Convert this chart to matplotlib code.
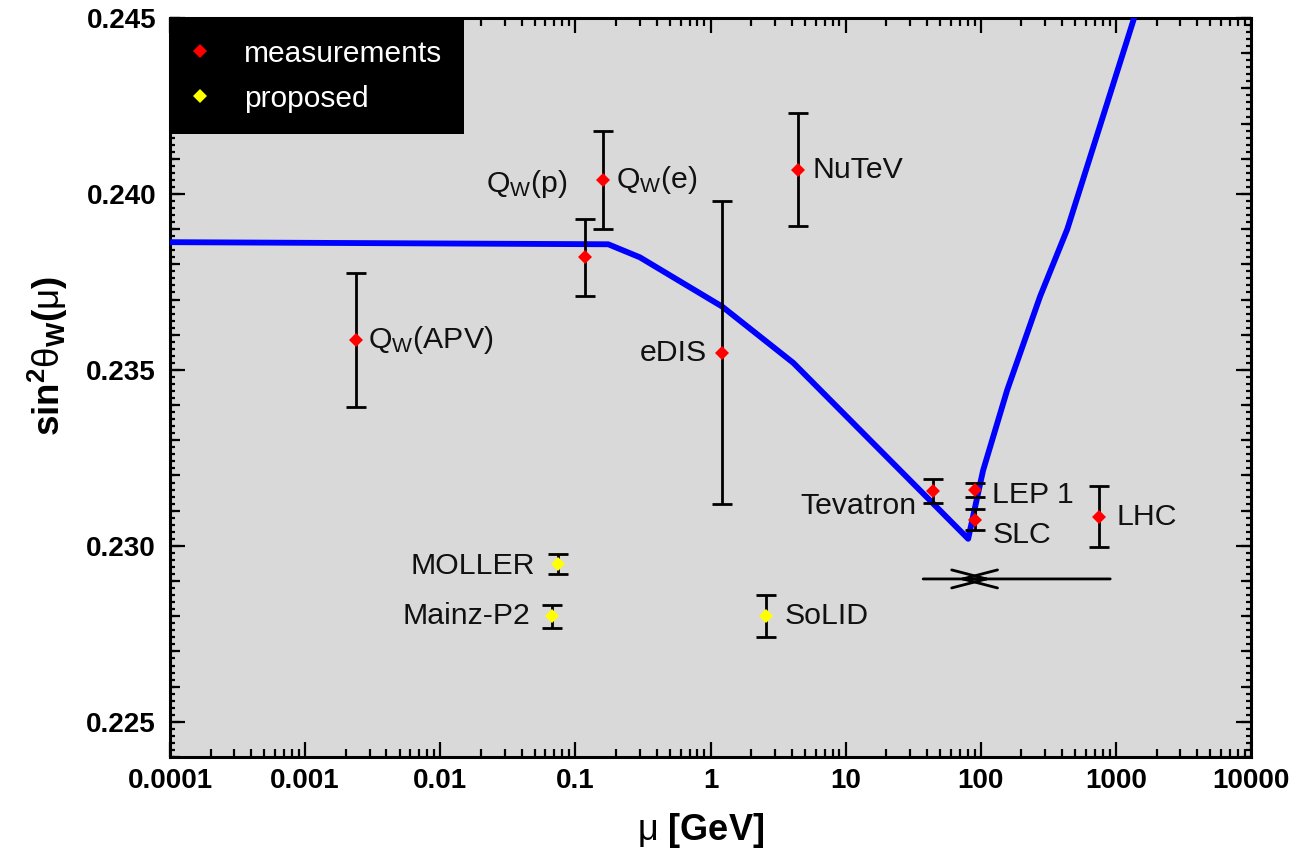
import numpy as np
import matplotlib
matplotlib.use("Agg")
import matplotlib.pyplot as plt
from matplotlib.lines import Line2D
from matplotlib.ticker import MultipleLocator, FuncFormatter, LogLocator, NullFormatter

plt.rcParams['font.family'] = ['Liberation Sans', 'DejaVu Sans']
plt.rcParams['mathtext.fontset'] = 'custom'
plt.rcParams['mathtext.rm'] = 'Liberation Sans'
plt.rcParams['mathtext.it'] = 'Liberation Sans'
plt.rcParams['mathtext.bf'] = 'Liberation Sans:bold'

# ---------------- data ----------------
meas_names = [r"Q$_{\mathrm{W}}$(APV)", r"Q$_{\mathrm{W}}$(p)", r"Q$_{\mathrm{W}}$(e)", "eDIS",
              "NuTeV", "Tevatron", "LEP 1", "SLC", "LHC"]
meas_mu = [0.00238, 0.118, 0.160, 1.22, 4.45, 44.5, 91.2, 91.2, 751]
meas_s2w = [0.23586, 0.2382, 0.2404, 0.23549, 0.24069, 0.23157, 0.2316, 0.23074, 0.23083]
meas_err = [0.0019, 0.0011, 0.0014, 0.0043, 0.0016, 0.00034, 0.0002, 0.0003, 0.00087]

prop_names = ["MOLLER", "Mainz-P2", "SoLID"]
prop_mu = [0.0745, 0.0673, 2.58]
prop_s2w = [0.22949, 0.2280, 0.2280]
prop_err = [0.00029, 0.00033, 0.0006]

curve_mu = [1e-4, 0.175, 0.30, 1.22, 4.1, 80.7, 104, 157, 275, 437, 1365, 1585]
curve_s2w = [0.23863, 0.23857, 0.2382, 0.2368, 0.2352, 0.2302, 0.23214, 0.23443, 0.23709,
             0.2390, 0.2450, 0.24575]

arrow_y = 0.22906
arrow_left = 37.5
arrow_right = 908
arrow_tip_from_left = 121
arrow_tip_from_right = 67

x_tick_values = [1e-4, 1e-3, 1e-2, 1e-1, 1, 10, 100, 1000, 10000]
x_tick_labels = ["0.0001", "0.001", "0.01", "0.1", "1", "10", "100", "1000", "10000"]

# label layout (offsets in pixels, alignment)
meas_label_layout = [(12, 0, 'left'), (-17, 73, 'right'), (13, 0, 'left'), (-15, 0, 'right'),
                     (14, 0, 'left'), (-17, -15, 'right'), (17, -5, 'left'), (17, -15, 'left'),
                     (17, 0, 'left')]
prop_label_layout = [(-23, -2, 'right'), (-22, 0, 'right'), (18, 0, 'left')]

# ---------------- figure ----------------
fig = plt.figure(figsize=(13.03, 8.58), dpi=100)
ax = fig.add_axes([170/1303, 101/858, 1081/1303, 739/858])
ax.set_facecolor('#d9d9d9')
ax.set_xscale('log')
ax.set_xlim(1e-4, 1e4)
ax.set_ylim(0.224, 0.245)

ax.plot(curve_mu, curve_s2w, color='#0000ff', lw=4.2, zorder=3)

ax.errorbar(meas_mu, meas_s2w, yerr=meas_err, fmt='none', ecolor='black',
            elinewidth=2.0, capsize=7.5, capthick=2.0, zorder=4)
ax.plot(meas_mu, meas_s2w, 'D', color='#ff0000', ms=6.8, mew=0, zorder=5)
ax.errorbar(prop_mu, prop_s2w, yerr=prop_err, fmt='none', ecolor='black',
            elinewidth=2.0, capsize=7.5, capthick=2.0, zorder=4)
ax.plot(prop_mu, prop_s2w, 'D', color='#ffff00', ms=7.5, mew=0, zorder=5)

for name, x, y, (dx, dy, ha) in zip(meas_names, meas_mu, meas_s2w, meas_label_layout):
    ax.annotate(name, xy=(x, y), xytext=(dx, dy), textcoords='offset pixels',
                ha=ha, va='center', fontsize=21.8, color='#111111', zorder=6)
for name, x, y, (dx, dy, ha) in zip(prop_names, prop_mu, prop_s2w, prop_label_layout):
    ax.annotate(name, xy=(x, y), xytext=(dx, dy), textcoords='offset pixels',
                ha=ha, va='center', fontsize=21.8, color='#111111', zorder=6)

arrowprops = dict(arrowstyle='->,head_length=2.5,head_width=0.65', color='black',
                  lw=2.0, shrinkA=0, shrinkB=0, mutation_scale=10)
ax.annotate('', xy=(arrow_tip_from_left, arrow_y), xytext=(arrow_left, arrow_y), arrowprops=arrowprops)
ax.annotate('', xy=(arrow_tip_from_right, arrow_y), xytext=(arrow_right, arrow_y), arrowprops=arrowprops)

# ticks
ax.set_xticks(x_tick_values)
ax.set_xticklabels(x_tick_labels)
ax.xaxis.set_minor_locator(LogLocator(base=10, subs=np.arange(2, 10), numticks=20))
ax.xaxis.set_minor_formatter(NullFormatter())

ax.yaxis.set_major_locator(MultipleLocator(0.005))
ax.yaxis.set_minor_locator(MultipleLocator(0.0002))
ax.yaxis.set_major_formatter(FuncFormatter(lambda v, p: f"{v:.3f}"))

ax.tick_params(axis='both', which='both', direction='in', top=True, right=True, width=1.6, colors='black')
ax.tick_params(axis='x', which='major', length=11, pad=8)
ax.tick_params(axis='x', which='minor', length=6)
ax.tick_params(axis='y', which='major', length=11, pad=10)
ax.tick_params(axis='y', which='minor', length=3.8)
for lab in ax.get_xticklabels() + ax.get_yticklabels():
    lab.set_fontweight('bold')
    lab.set_fontsize(20)
for s in ax.spines.values():
    s.set_linewidth(2.2)

# medium ticks every 0.001 on both vertical sides
for side in ('left', 'right'):
    sec = ax.secondary_yaxis(side)
    sec.yaxis.set_major_locator(MultipleLocator(0.001))
    sec.yaxis.set_minor_locator(MultipleLocator(0.001))
    sec.tick_params(axis='y', which='both', direction='in', length=7.5, width=1.6,
                    labelleft=False, labelright=False)
    sec.spines[side].set_visible(False)

ax.set_xlabel(r'$\mu$ $\mathbf{[GeV]}$', fontsize=26, va='center')
ax.xaxis.set_label_coords(0.491, -0.0988)
ax.set_ylabel(r'$\mathbf{sin}^{\mathbf{2}}\theta_{\mathbf{W}}\mathbf{(}\mu\mathbf{)}$', fontsize=26.5)
ax.yaxis.set_label_coords(-0.0925, 0.5426)

handles = [Line2D([], [], ls='none', marker='D', color='#ff0000', ms=6.8, mew=0),
           Line2D([], [], ls='none', marker='D', color='#ffff00', ms=6.8, mew=0)]
leg = ax.legend(handles, ['measurements', 'proposed'], loc='upper left', bbox_to_anchor=(0, 1),
                borderaxespad=0, frameon=True, fancybox=False, facecolor='black', edgecolor='black',
                framealpha=1, fontsize=21.5, labelcolor='white', handlelength=0.55,
                handletextpad=1.2, borderpad=0.72, labelspacing=0.58)
leg.get_frame().set_linewidth(0)
leg.set_zorder(10)

fig.savefig('out.png', dpi=100)
